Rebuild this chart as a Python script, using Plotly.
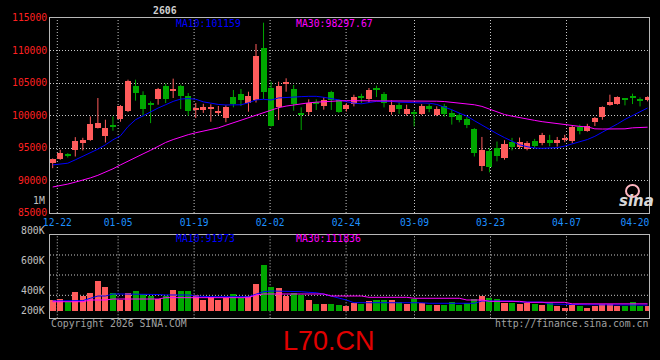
import plotly.graph_objects as go

W, H = 660, 360

# ---------------- data ----------------
date_labels = ["12-22", "01-05", "01-19", "02-02", "02-24", "03-09", "03-23", "04-07", "04-20"]
date_days = [1, 9, 19, 29, 39, 48, 58, 68, 77]
price_ticks = [85000, 90000, 95000, 100000, 105000, 110000, 115000]

opens = [92660, 93330, 93950, 94720, 95800, 96260, 98110, 96880, 98580, 99450,
         100730, 104590, 103200, 101800, 102600, 104590, 103720, 104490, 103050, 100890,
         100850, 101050, 100400, 99660, 102800, 103310, 101870, 102380, 110340, 104180,
         101350, 104950, 104030, 100300, 100500, 101900, 101460, 103660, 102380, 100950,
         101810, 102900, 102580, 104280, 103300, 100480, 101660, 100270, 100330, 100220,
         101500, 100010, 101400, 100450, 100120, 99500, 97960, 92250, 94580, 94950,
         93430, 96000, 95120, 94900, 96100, 95750, 96250, 95800, 96250, 96050,
         98180, 97680, 98980, 99710, 101560, 101800, 102480, 102830, 102580, 102330]
closes = [93280, 94200, 93880, 96110, 96260, 98730, 98880, 98110, 98160, 101400,
          105360, 103410, 101040, 101650, 104130, 102530, 104130, 102940, 100730, 101150,
          101350, 101150, 100740, 101260, 101770, 102380, 103000, 109150, 103660, 98430,
          104540, 105100, 101800, 100200, 101870, 101800, 102380, 102380, 100590, 101620,
          102840, 102800, 103970, 103870, 102000, 101660, 100990, 101040, 100250, 101500,
          100990, 100990, 100220, 99720, 99240, 98470, 94300, 94700, 92020, 93800,
          95620, 95150, 95950, 95730, 95330, 97010, 95840, 96250, 96580, 98300,
          97690, 98430, 99630, 101250, 102120, 102790, 102400, 102760, 102170, 102790]
highs = [93400, 94720, 94200, 96670, 96570, 99860, 102690, 99350, 99860, 101610,
         105510, 105510, 103720, 102170, 104250, 104900, 105670, 104740, 103460, 101920,
         101800, 101720, 101460, 101570, 103920, 104080, 103660, 111000, 114280, 105200,
         105200, 105720, 104690, 101260, 102490, 102490, 102800, 103800, 102500, 101900,
         103200, 103350, 104230, 104590, 103610, 102330, 102020, 101660, 100890, 101760,
         101760, 101400, 101800, 100890, 100400, 99760, 98060, 96700, 94980, 96000,
         96200, 96560, 96610, 96050, 96400, 97330, 97020, 96700, 97030, 98450,
         98600, 98720, 99760, 101400, 103200, 102940, 102690, 103360, 102790, 102940]
lows = [91900, 93180, 93540, 93690, 94620, 96110, 98010, 95850, 97650, 99040,
        100530, 102280, 99860, 98830, 101660, 101920, 102690, 100990, 99960, 99600,
        100400, 99040, 100080, 98960, 101260, 101460, 100590, 102000, 102540, 98300,
        99310, 103660, 100740, 97770, 100080, 100840, 100900, 100850, 100400, 100600,
        101400, 101900, 101920, 102840, 101250, 100120, 100270, 99960, 98320, 100100,
        100500, 99900, 99800, 98600, 98950, 98060, 93690, 91450, 91250, 92950,
        93200, 94630, 94840, 94640, 94950, 95420, 95270, 95220, 95900, 95730,
        97100, 97500, 98380, 99350, 101500, 101660, 101560, 101760, 101400, 102170]
ma10 = [92400, 92500, 92660, 93180, 93690, 94200, 94820, 95490, 96260, 96880,
        98300, 99350, 99960, 100480, 101150, 101660, 102170, 102530, 102600, 102500,
        102100, 101900, 101700, 101620, 101620, 101650, 101950, 102400, 102500, 102380,
        102700, 102800, 102850, 102900, 102950, 102950, 102800, 102640, 102400, 102120,
        101900, 101800, 102000, 102170, 102170, 102170, 102050, 102020, 102000, 101920,
        101900, 101700, 101300, 100890, 100370, 99900, 99200, 98500, 97800, 97200,
        96600, 96000, 95500, 95200, 95000, 94950, 94950, 95050, 95300, 95600,
        95900, 96300, 96800, 97400, 98000, 98700, 99400, 100000, 100600, 101159]
ma30 = [89000, 89200, 89450, 89750, 90050, 90400, 90800, 91250, 91800, 92400,
        93000, 93550, 94100, 94650, 95300, 95850, 96300, 96700, 97050, 97350,
        97600, 97850, 98100, 98500, 98900, 99300, 99700, 100100, 100500, 100900,
        101200, 101450, 101650, 101800, 101950, 102050, 102150, 102200, 102250, 102280,
        102280, 102250, 102250, 102250, 102250, 102250, 102200, 102200, 102200, 102200,
        102200, 102200, 102150, 102050, 101950, 101800, 101650, 101400, 100950, 100500,
        100150, 99900, 99650, 99450, 99250, 99050, 98900, 98700, 98550, 98400,
        98320, 98250, 97950, 97920, 97920, 97920, 97950, 98100, 98150, 98200]
vol_k = [175, 203, 147, 311, 240, 294, 490, 392, 294, 175,
         294, 327, 284, 240, 203, 240, 338, 327, 327, 257,
         186, 229, 186, 219, 273, 219, 240, 437, 747, 392,
         371, 240, 294, 262, 175, 110, 110, 121, 93, 77,
         131, 121, 164, 175, 175, 175, 142, 121, 203, 131,
         93, 93, 93, 147, 93, 131, 203, 240, 219, 203,
         131, 131, 110, 131, 110, 93, 131, 77, 55, 93,
         77, 55, 77, 121, 121, 77, 77, 147, 77, 77]
vma10_k = [160, 160, 160, 160, 165, 203, 240, 240, 273, 273,
           273, 273, 273, 273, 265, 257, 257, 257, 257, 240,
           229, 229, 229, 229, 229, 229, 229, 270, 311, 322,
           322, 322, 322, 311, 300, 294, 270, 240, 200, 175,
           131, 131, 131, 131, 131, 142, 142, 142, 142, 130,
           121, 121, 121, 121, 121, 121, 121, 159, 159, 159,
           159, 159, 142, 142, 142, 142, 110, 105, 105, 100,
           100, 98, 98, 95, 95, 95, 93, 93, 92, 92]
vma30_k = [147, 147, 147, 147, 147, 175, 175, 175, 191, 191,
           191, 191, 191, 191, 191, 213, 213, 213, 213, 213,
           213, 213, 213, 213, 213, 213, 213, 257, 273, 273,
           273, 273, 273, 273, 273, 273, 273, 240, 240, 240,
           240, 240, 219, 219, 219, 219, 219, 219, 203, 203,
           203, 203, 203, 203, 203, 175, 175, 175, 153, 153,
           153, 153, 153, 137, 137, 137, 137, 137, 137, 112,
           112, 112, 112, 112, 112, 112, 112, 112, 112, 112]

ma_price_text = ["MA10:101159", "MA30:98297.67"]
ma_vol_text = ["MA10:91973", "MA30:111836"]
vol_axis_text = ["800K", "600K", "400K", "200K"]

# ---------------- style / layout helpers ----------------
RED = "#ff5c5c"
GREEN = "#00a800"
BLUE = "#0000ff"
MAG = "#ff00ff"
BORDER = "#b8b8b8"
GRID = "#c8c8c8"
MONO = "DejaVu Sans Mono"
SLOT = 7.53          # px per candle
X0 = 52.7            # px centre of first candle
PL, PR = 50, 649     # plot left/right px


def px2x(px):
    return (px - X0) / SLOT


def fx(px):
    return px / W


def fy(py):
    return 1 - py / H


xr = [px2x(PL), px2x(PR)]
tick_x = [px2x(57.3 + 7.6 * (d - 1)) for d in date_days]

n = len(closes)
idx = list(range(n))
colors = [RED if c >= o else GREEN for o, c in zip(opens, closes)]
body_base = [min(o, c) for o, c in zip(opens, closes)]
body_h = [max(abs(c - o), 150) for o, c in zip(opens, closes)]

fig = go.Figure()

# wicks
for col in (RED, GREEN):
    wx, wy = [], []
    for i in idx:
        if colors[i] == col:
            wx += [i, i, None]
            wy += [lows[i], highs[i], None]
    fig.add_trace(go.Scatter(x=wx, y=wy, mode="lines", line=dict(color=col, width=1),
                             xaxis="x", yaxis="y", hoverinfo="skip"))

fig.add_trace(go.Bar(x=idx, y=body_h, base=body_base, width=0.8,
                     marker=dict(color=colors, line=dict(width=0)),
                     xaxis="x", yaxis="y"))
fig.add_trace(go.Scatter(x=idx, y=ma10, mode="lines", line=dict(color=BLUE, width=1),
                         xaxis="x", yaxis="y"))
fig.add_trace(go.Scatter(x=idx, y=ma30, mode="lines", line=dict(color=MAG, width=1),
                         xaxis="x", yaxis="y"))

# volume
fig.add_trace(go.Bar(x=idx, y=vol_k, width=0.8,
                     marker=dict(color=colors, line=dict(width=0)),
                     xaxis="x2", yaxis="y2"))
fig.add_trace(go.Scatter(x=idx, y=vma10_k, mode="lines", line=dict(color=BLUE, width=1),
                         xaxis="x2", yaxis="y2"))
fig.add_trace(go.Scatter(x=idx, y=vma30_k, mode="lines", line=dict(color=MAG, width=1),
                         xaxis="x2", yaxis="y2"))

# volume axis: 0 at px 310.7, 16.35K per px
KPP = 16.35
vr = [(310.7 - 318.3) * KPP, (310.7 - 234.7) * KPP]

shapes = []
for tx in tick_x[:-1]:
    for yr in ("y domain", "y2 domain"):
        shapes.append(dict(type="line", xref="x" if yr == "y domain" else "x2", yref=yr,
                           x0=tx, x1=tx, y0=0, y1=1, layer="below",
                           line=dict(color=GRID, width=1, dash="1px,2px")))
for py in (255, 275, 295.3):
    shapes.append(dict(type="line", xref="paper", yref="paper", x0=fx(PL), x1=fx(PR),
                       y0=fy(py), y1=fy(py), layer="below",
                       line=dict(color=GRID, width=1, dash="1px,2px")))
# sina logo eye
shapes.append(dict(type="circle", xref="paper", yref="paper",
                   x0=fx(626), x1=fx(639), y0=fy(197), y1=fy(185),
                   line=dict(color="#ffb6c1", width=2)))

ann = []


def text(t, px, py, color, size=9.8, anchor="left", family=MONO, **kw):
    ann.append(dict(text=t, x=fx(px), y=fy(py), xref="paper", yref="paper",
                    xanchor=anchor, yanchor="middle", showarrow=False,
                    font=dict(family=family, size=size, color=color, **kw)))


text("2606", 165, 10, "#d0d0d0", anchor="center", weight="bold")
text(ma_price_text[0], 174, 23.5, BLUE)
text(ma_price_text[1], 294, 23.5, MAG)
text("1M", 47, 200.7, "#c0c0c0", anchor="right")
text(ma_vol_text[0], 174, 238.8, BLUE)
text(ma_vol_text[1], 294, 238.8, MAG)
for t, py in zip(vol_axis_text, (230.7, 260.7, 290.7, 310.7)):
    text(t, 47, py, "#c0c0c0", anchor="right")
text("Copyright 2026 SINA.COM", 49, 323, "#a0a0a0")
text("http://finance.sina.com.cn", 650, 323, "#a0a0a0", anchor="right")
text("L70.CN", 329, 341, "#e00000", size=27, anchor="center", family="Liberation Sans")
text("sina", 636, 201, "#d8d8d8", size=15, anchor="center", family="DejaVu Sans",
     weight="bold", style="italic")

fig.update_layout(
    width=W, height=H, margin=dict(l=0, r=0, t=0, b=0, autoexpand=False),
    paper_bgcolor="black", plot_bgcolor="black", showlegend=False,
    barmode="overlay", bargap=0, hovermode=False,
    xaxis=dict(domain=[fx(PL), fx(PR)], range=xr, anchor="y", automargin=False,
               tickvals=tick_x, ticktext=date_labels, ticks="",
               tickfont=dict(family=MONO, size=9.6, color="#1e90ff"),
               showgrid=False, zeroline=False, showline=True, mirror=True,
               linecolor=BORDER, linewidth=1),
    yaxis=dict(domain=[fy(213), fy(18)], range=[85000, 115000], anchor="x", automargin=False,
               tickvals=price_ticks, ticktext=[str(v) for v in price_ticks], ticks="",
               tickfont=dict(family=MONO, size=9.7, color="#ff2020"),
               showgrid=True, gridcolor=GRID, griddash="1px,2px", gridwidth=1,
               zeroline=False, showline=True, mirror=True, linecolor=BORDER, linewidth=1),
    xaxis2=dict(domain=[fx(PL), fx(PR)], range=xr, anchor="y2", automargin=False,
                showticklabels=False,
                showgrid=False, zeroline=False, showline=True, mirror=True,
                linecolor=BORDER, linewidth=1),
    yaxis2=dict(domain=[fy(318.3), fy(234.7)], range=vr, anchor="x2", automargin=False,
                showticklabels=False, showgrid=False, zeroline=False,
                showline=True, mirror=True, linecolor=BORDER, linewidth=1),
    shapes=shapes, annotations=ann,
)

fig.write_html("out.html")
